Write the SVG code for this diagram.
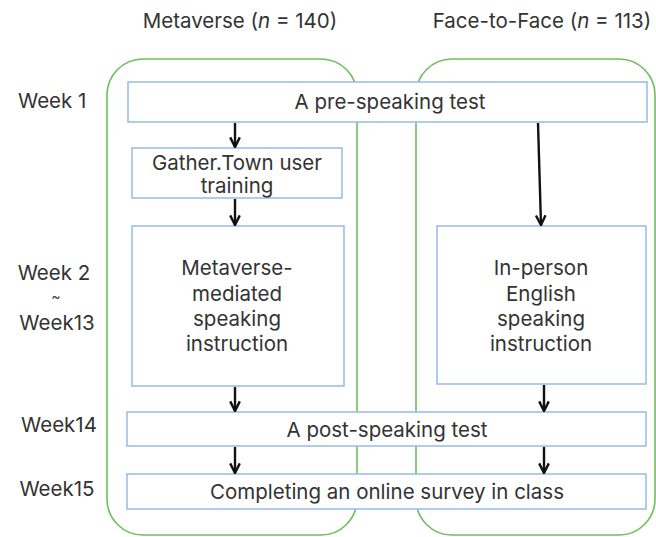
<svg xmlns="http://www.w3.org/2000/svg" width="656" height="537" viewBox="0 0 656 537">
<defs>
<style>
text{font-family:Inter,"Noto Sans",sans-serif;font-size:20.5px;fill:#333333;}
.c{text-anchor:middle;}
.grp{fill:none;stroke:#6cbf5a;stroke-width:1.6;}
.box{fill:#ffffff;stroke:#9dc0e8;stroke-width:1.6;}
.arr{stroke:#111;stroke-width:2.4;fill:none;marker-end:url(#ah);}
</style>
<marker id="ah" viewBox="0 0 10 10" refX="9" refY="5" markerWidth="5" markerHeight="5" orient="auto" markerUnits="strokeWidth">
<path d="M1,1 L9,5 L1,9" fill="none" stroke="#111" stroke-width="2"/>
</marker>
</defs>
<rect width="656" height="537" fill="#ffffff"/>
<g id="header">
<text x="240" y="28" class="c">Metaverse (<tspan font-style="italic">n</tspan> = 140)</text>
<text x="542" y="28" class="c">Face-to-Face (<tspan font-style="italic">n</tspan> = 113)</text>
</g>
<g id="weeks">
<text x="18" y="108">Week 1</text>
<text x="54" y="280" class="c">Week 2</text>
<text x="56" y="301" class="c" style="font-size:14px">~</text>
<text x="57" y="330" class="c">Week13</text>
<text x="59" y="432" class="c">Week14</text>
<text x="57" y="496" class="c">Week15</text>
</g>
<g id="group-metaverse"><rect class="grp" x="107" y="59" width="250" height="476" rx="36"/></g>
<g id="group-f2f"><rect class="grp" x="416" y="59" width="239" height="476" rx="36"/></g>
<g id="pre-test"><rect class="box" x="128" y="82" width="519" height="40"/><text x="390" y="109" class="c">A pre-speaking test</text></g>
<g id="gather"><rect class="box" x="132" y="148" width="210" height="50"/><text x="237" y="170" class="c">Gather.Town user</text><text x="237" y="193" class="c">training</text></g>
<g id="meta-instr"><rect class="box" x="132" y="226" width="212" height="160"/>
<text x="237" y="275" class="c">Metaverse-</text><text x="237" y="301" class="c">mediated</text><text x="237" y="326" class="c">speaking</text><text x="237" y="351" class="c">instruction</text></g>
<g id="f2f-instr"><rect class="box" x="437" y="226" width="209" height="158"/>
<text x="541" y="275" class="c">In-person</text><text x="541" y="301" class="c">English</text><text x="541" y="326" class="c">speaking</text><text x="541" y="351" class="c">instruction</text></g>
<g id="post-test"><rect class="box" x="127" y="412" width="519" height="34"/><text x="387" y="437" class="c">A post-speaking test</text></g>
<g id="survey"><rect class="box" x="127" y="474" width="519" height="35"/><text x="387" y="499" class="c">Completing an online survey in class</text></g>
<g id="connectors">
<line class="arr" x1="235" y1="123" x2="235" y2="147"/>
<line class="arr" x1="235" y1="199" x2="235" y2="225"/>
<line class="arr" x1="538" y1="123" x2="541" y2="225"/>
<line class="arr" x1="235" y1="387" x2="235" y2="411"/>
<line class="arr" x1="544" y1="385" x2="544" y2="411"/>
<line class="arr" x1="235" y1="447" x2="235" y2="473"/>
<line class="arr" x1="544" y1="447" x2="544" y2="473"/>
</g>
</svg>
